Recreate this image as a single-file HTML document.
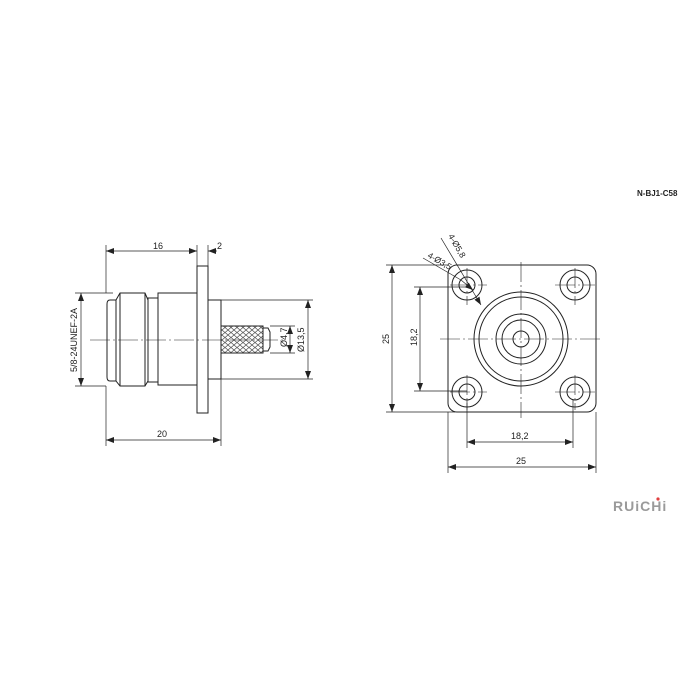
<!DOCTYPE html>
<html><head><meta charset="utf-8"><style>
html,body{margin:0;padding:0;background:#fff;}
svg{display:block;}
text{font-family:"Liberation Sans",sans-serif;fill:#222;}
</style></head><body>
<svg width="700" height="700" viewBox="0 0 700 700" xmlns="http://www.w3.org/2000/svg">
<defs>
<marker id="a" markerWidth="8" markerHeight="6" refX="8" refY="3" orient="auto-start-reverse" markerUnits="userSpaceOnUse"><path d="M0,0 L8,3 L0,6 Z" fill="#222"/></marker>
<pattern id="kn" width="6" height="5" patternUnits="userSpaceOnUse"><path d="M0,0 L3,2.5 L6,0 M0,5 L3,2.5 L6,5" stroke="#555" stroke-width="0.7" fill="none"/></pattern>
</defs>
<g stroke="#222" fill="none" stroke-width="1">
<path d="M116,300 L110,300 Q107,300 107,304 L107,377 Q107,381 110,381 L116,381" />
<path d="M116,300 L120,293 L145,293 L148,300 L148,381 L145,386 L120,386 L116,381 Z"/>
<line x1="120" y1="293" x2="120" y2="386"/><line x1="145" y1="293" x2="145" y2="386"/>
<rect x="148" y="298" width="10" height="84"/>
<rect x="158" y="293" width="39" height="92"/>
<rect x="197" y="266" width="11" height="147"/>
<rect x="208" y="300" width="13" height="79"/>
<rect x="221" y="326" width="42" height="27" fill="url(#kn)"/>
<path d="M263,328 L268,328 L270,332 L270,347 L268,351 L263,351"/>
<line x1="90" y1="340" x2="285" y2="340" stroke-width="0.6" stroke-dasharray="20,3,2,3"/>
<g stroke-width="0.7">
<line x1="106" y1="245" x2="106" y2="293"/><line x1="197" y1="245" x2="197" y2="266"/><line x1="208" y1="245" x2="208" y2="266"/>
<line x1="106" y1="251" x2="197" y2="251" marker-start="url(#a)" marker-end="url(#a)"/>
<line x1="217" y1="251" x2="208" y2="251" marker-end="url(#a)"/>
<line x1="106" y1="386" x2="106" y2="446"/><line x1="221" y1="379" x2="221" y2="446"/>
<line x1="106" y1="440" x2="221" y2="440" marker-start="url(#a)" marker-end="url(#a)"/>
<line x1="75" y1="293" x2="113" y2="293"/><line x1="75" y1="386" x2="106" y2="386"/>
<line x1="81" y1="293" x2="81" y2="386" marker-start="url(#a)" marker-end="url(#a)"/>
<line x1="221" y1="300" x2="313" y2="300"/><line x1="221" y1="379" x2="313" y2="379"/>
<line x1="308" y1="300" x2="308" y2="379" marker-start="url(#a)" marker-end="url(#a)"/>
<line x1="270" y1="326" x2="295" y2="326"/><line x1="270" y1="353" x2="295" y2="353"/>
<line x1="290" y1="326" x2="290" y2="353" marker-start="url(#a)" marker-end="url(#a)"/>
</g>
<rect x="448" y="265" width="148" height="147" rx="9"/>
<g>
<circle cx="467" cy="285" r="15"/><circle cx="467" cy="285" r="8"/>
<circle cx="575" cy="285" r="15"/><circle cx="575" cy="285" r="8"/>
<circle cx="467" cy="392" r="15"/><circle cx="467" cy="392" r="8"/>
<circle cx="575" cy="392" r="15"/><circle cx="575" cy="392" r="8"/>
</g>
<circle cx="521" cy="339" r="47"/><circle cx="521" cy="339" r="42"/>
<circle cx="521" cy="339" r="25"/><circle cx="521" cy="339" r="19"/><circle cx="521" cy="339" r="8"/>
<g stroke-width="0.6" stroke-dasharray="20,3,2,3">
<line x1="521" y1="262" x2="521" y2="418"/><line x1="440" y1="339" x2="600" y2="339"/>
<line x1="450" y1="285" x2="487" y2="285"/><line x1="467" y1="268" x2="467" y2="305"/>
<line x1="555" y1="285" x2="595" y2="285"/><line x1="575" y1="268" x2="575" y2="305"/>
<line x1="450" y1="392" x2="487" y2="392"/><line x1="467" y1="375" x2="467" y2="410"/>
<line x1="555" y1="392" x2="595" y2="392"/><line x1="575" y1="375" x2="575" y2="410"/>
</g>
<g stroke-width="0.7">
<line x1="386" y1="265" x2="448" y2="265"/><line x1="386" y1="412" x2="455" y2="412"/>
<line x1="392" y1="265" x2="392" y2="412" marker-start="url(#a)" marker-end="url(#a)"/>
<line x1="414" y1="287" x2="467" y2="287"/><line x1="414" y1="391" x2="467" y2="391"/>
<line x1="420" y1="287" x2="420" y2="391" marker-start="url(#a)" marker-end="url(#a)"/>
<line x1="467" y1="400" x2="467" y2="448"/><line x1="573" y1="400" x2="573" y2="448"/>
<line x1="467" y1="442" x2="573" y2="442" marker-start="url(#a)" marker-end="url(#a)"/>
<line x1="448" y1="412" x2="448" y2="473"/><line x1="596" y1="412" x2="596" y2="473"/>
<line x1="448" y1="467" x2="596" y2="467" marker-start="url(#a)" marker-end="url(#a)"/>
<line x1="441" y1="238" x2="481" y2="305" marker-end="url(#a)"/>
<line x1="423" y1="258" x2="461" y2="280" />
<line x1="461" y1="280" x2="473" y2="290" marker-end="url(#a)"/>
</g>
</g>
<text x="153" y="249" font-size="9">16</text>
<text x="217" y="249" font-size="9">2</text>
<text x="157" y="437" font-size="9">20</text>
<text transform="translate(77,372) rotate(-90)" font-size="9">5/8-24UNEF-2A</text>
<text transform="translate(304,352) rotate(-90)" font-size="9">Ø13,5</text>
<text transform="translate(287,347) rotate(-90)" font-size="9">Ø4,7</text>
<text transform="translate(389,344) rotate(-90)" font-size="9">25</text>
<text transform="translate(417,346) rotate(-90)" font-size="9">18,2</text>
<text x="511" y="439" font-size="9">18,2</text>
<text x="516" y="464" font-size="9">25</text>
<text transform="translate(448,236) rotate(60)" font-size="8.5">4-Ø5,8</text>
<text transform="translate(427,257) rotate(30)" font-size="8.5">4-Ø3,5</text>
<text x="637" y="196" font-size="8" font-weight="bold">N-BJ1-C58</text>
<text x="613" y="511" font-size="14" font-weight="bold" style="fill:#9a9a9a;letter-spacing:1px">RUiCHi</text>
<circle cx="658" cy="499" r="1.6" fill="#e04040"/>
</svg>
</body></html>
